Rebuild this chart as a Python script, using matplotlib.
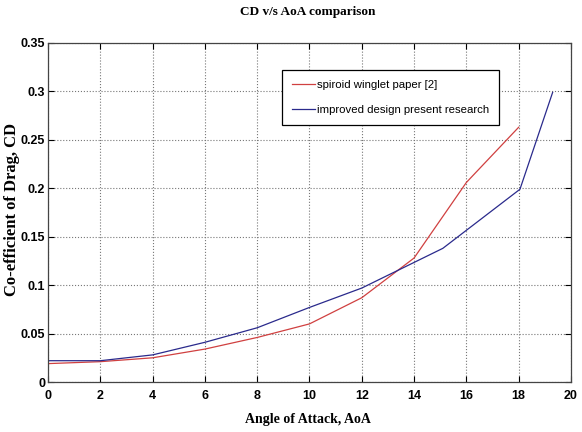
import matplotlib
matplotlib.use("Agg")
import matplotlib.pyplot as plt

# angle of attack (deg) and drag coefficient for both designs
aoa_paper = [0, 2, 4, 6, 8, 10, 12, 14, 16, 18]
cd_paper = [0.019, 0.021, 0.025, 0.034, 0.046, 0.060, 0.087, 0.128, 0.206, 0.263]

aoa_new = [0, 2, 4, 6, 8, 10, 12, 15.1, 18.05, 19.3]
cd_new = [0.022, 0.022, 0.028, 0.041, 0.056, 0.077, 0.097, 0.138, 0.199, 0.299]

xticks = list(range(0, 21, 2))
yticks = [0, 0.05, 0.1, 0.15, 0.2, 0.25, 0.3, 0.35]
ytick_labels = ["0", "0.05", "0.1", "0.15", "0.2", "0.25", "0.3", "0.35"]

fig = plt.figure(figsize=(5.82, 4.32), dpi=100)
ax = fig.add_axes([0.0825, 0.1157, 0.8985, 0.7848])

ax.plot(aoa_paper, cd_paper, color="#d04040", lw=0.9, label="spiroid winglet paper [2]")
ax.plot(aoa_new, cd_new, color="#2a2a8c", lw=0.9, label="improved design present research")

ax.set_xlim(0, 20)
ax.set_ylim(0, 0.35)
ax.set_xticks(xticks)
ax.set_yticks(yticks)
ax.set_yticklabels(ytick_labels)
ax.tick_params(direction="in", top=True, right=True, length=4, width=0.8, labelsize=9)
ax.tick_params(axis="x", pad=6)
ax.tick_params(axis="y", pad=2)
for lab in ax.get_xticklabels() + ax.get_yticklabels():
    lab.set_fontweight("bold")
    lab.set_family("Liberation Sans")

ax.grid(True, linestyle=":", color="#777777", lw=0.8)
for s in ax.spines.values():
    s.set_color("#444444")
    s.set_linewidth(0.9)

fig.text(0.529, 0.972, "CD v/s AoA comparison", family="Liberation Serif", fontsize=9.5,
         fontweight="bold", ha="center", va="center")
fig.text(0.529, 0.028, "Angle of Attack, AoA", family="Liberation Serif", fontsize=10,
         fontweight="bold", ha="center", va="center")
fig.text(0.021, 0.515, "Co-efficient of Drag, CD", family="Liberation Serif", fontsize=12,
         fontweight="bold", ha="center", va="center", rotation=90)

leg = ax.legend(loc="upper left", bbox_to_anchor=(0.447, 0.92), fancybox=False,
                framealpha=1, edgecolor="black", prop={"family": "Liberation Sans", "size": 8.2},
                handlelength=2.0, handletextpad=0.2, borderpad=0.9, labelspacing=1.3,
                borderaxespad=0)
leg.get_frame().set_linewidth(0.9)

fig.savefig("out.png", dpi=100)
